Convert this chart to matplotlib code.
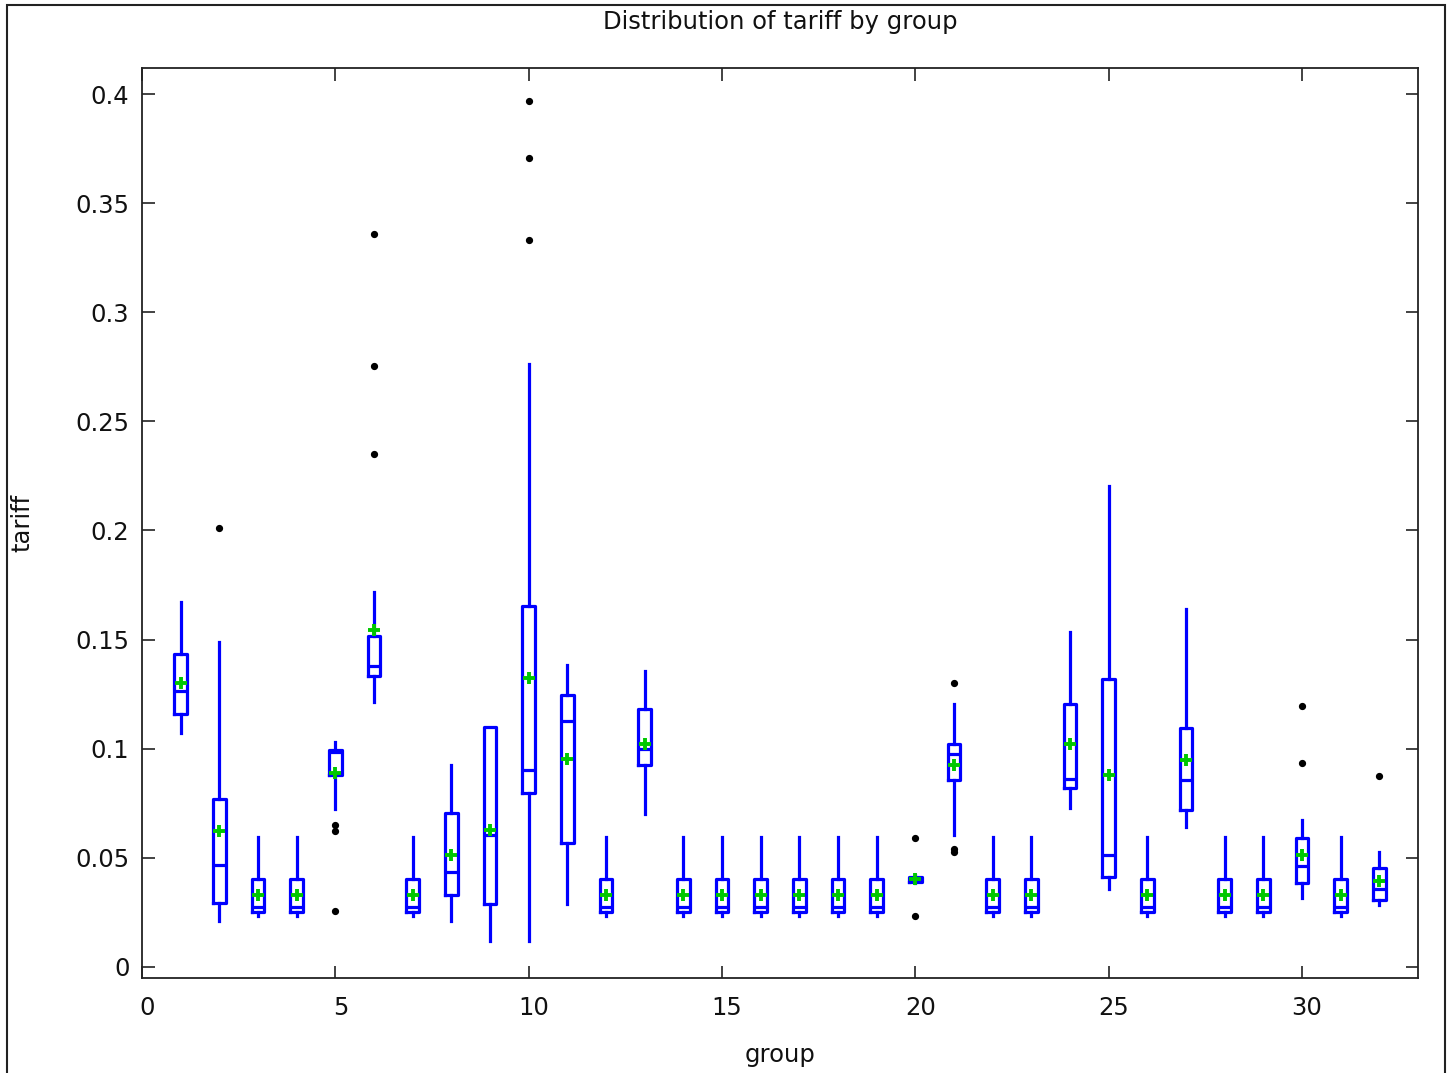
"""Figure: distribution of tariff by group (box plots, gretl style).

Each group shows box (Q1..Q3), median bar, whiskers without caps, the mean as a
green cross and the outliers as black dots.

Output: out.png
"""

from __future__ import annotations

import matplotlib

matplotlib.use("Agg")
import matplotlib.pyplot as plt
from matplotlib.patches import Rectangle
from matplotlib.transforms import ScaledTranslation


# Summary statistics.
GROUPS = list(range(1, 33))

# "standard" groups all share the same small box near 0.03
WHISLO = [
    0.107, 0.021, 0.0233, 0.0233, 0.0724, 0.1214, 0.0233, 0.021,
    0.0118, 0.0118, 0.0289, 0.0233, 0.070, 0.0233, 0.0233, 0.0233,
    0.0233, 0.0233, 0.0233, 0.0385, 0.0605, 0.0233, 0.0233, 0.0729,
    0.0358, 0.0233, 0.0641, 0.0233, 0.0233, 0.0316, 0.0233, 0.0284,
]
Q1 = [
    0.116, 0.029, 0.0252, 0.0252, 0.0877, 0.1334, 0.0252, 0.033,
    0.0289, 0.0797, 0.0568, 0.0252, 0.0926, 0.0252, 0.0252, 0.0252,
    0.0252, 0.0252, 0.0252, 0.0388, 0.0854, 0.0252, 0.0252, 0.082,
    0.0412, 0.0252, 0.0716, 0.0252, 0.0252, 0.0385, 0.0252, 0.0304,
]
MEDIAN = [
    0.1265, 0.0467, 0.0275, 0.0275, 0.0985, 0.138, 0.0275, 0.0435,
    0.0605, 0.0903, 0.1125, 0.0275, 0.0996, 0.0275, 0.0275, 0.0275,
    0.0275, 0.0275, 0.0275, 0.0400, 0.0976, 0.0275, 0.0275, 0.0859,
    0.0513, 0.0275, 0.0857, 0.0275, 0.0275, 0.046, 0.0275, 0.0354,
]
Q3 = [
    0.1434, 0.077, 0.0401, 0.0401, 0.0995, 0.1517, 0.0401, 0.0706,
    0.110, 0.1652, 0.1247, 0.0401, 0.118, 0.0401, 0.0401, 0.0401,
    0.0401, 0.0401, 0.0401, 0.0413, 0.1022, 0.0401, 0.0401, 0.1205,
    0.132, 0.0401, 0.1096, 0.0401, 0.0401, 0.059, 0.0401, 0.0452,
]
WHISHI = [
    0.167, 0.149, 0.0595, 0.0595, 0.103, 0.172, 0.0595, 0.0926,
    0.110, 0.2764, 0.1384, 0.0595, 0.1357, 0.0595, 0.0595, 0.0595,
    0.0595, 0.0595, 0.0595, 0.0420, 0.1205, 0.0595, 0.0595, 0.1535,
    0.2206, 0.0595, 0.1638, 0.0595, 0.0595, 0.0674, 0.0595, 0.0526,
]
MEAN = [
    0.130, 0.062, 0.033, 0.033, 0.089, 0.1545, 0.033, 0.0513,
    0.0628, 0.1324, 0.0953, 0.033, 0.102, 0.033, 0.033, 0.033,
    0.033, 0.033, 0.033, 0.0400, 0.0926, 0.033, 0.033, 0.1019,
    0.088, 0.033, 0.0949, 0.033, 0.033, 0.0513, 0.033, 0.0391,
]
OUTLIERS = {
    2: [0.201],
    5: [0.0257, 0.0622, 0.0648],
    6: [0.235, 0.2754, 0.336],
    10: [0.333, 0.371, 0.397],
    20: [0.0234, 0.059],
    21: [0.0528, 0.0540, 0.130],
    30: [0.0933, 0.1195],
    32: [0.0872],
}

X_TICKS = [0, 5, 10, 15, 20, 25, 30]
Y_TICKS = [0, 0.05, 0.1, 0.15, 0.2, 0.25, 0.3, 0.35, 0.4]

BLUE = "#0000ff"
GREEN = "#00c800"
INK = "#111111"
FS = 17.5


def main() -> None:
    plt.rcParams["font.family"] = "DejaVu Sans"
    plt.rcParams["font.size"] = FS

    fig = plt.figure(figsize=(14.55, 10.73), dpi=100)
    ax = fig.add_axes([142 / 1455, 95 / 1073, 1276 / 1455, 909.7 / 1073])

    stats = []
    for i, g in enumerate(GROUPS):
        stats.append(
            dict(
                whislo=WHISLO[i],
                q1=Q1[i],
                med=MEDIAN[i],
                q3=Q3[i],
                whishi=WHISHI[i],
                mean=MEAN[i],
                fliers=OUTLIERS.get(g, []),
            )
        )

    line = dict(color=BLUE, linewidth=2.3)
    ax.bxp(
        stats,
        positions=GROUPS,
        widths=0.32,
        showcaps=False,
        showmeans=True,
        boxprops=line,
        whiskerprops=line,
        medianprops=line,
        meanprops=dict(
            marker="+", markersize=9, markeredgewidth=2.8,
            markeredgecolor=GREEN, linestyle="none",
        ),
        flierprops=dict(
            marker="o", markersize=4.2, markerfacecolor="black",
            markeredgecolor="black", linestyle="none",
        ),
        manage_ticks=False,
    )

    ax.set_xlim(0, 33)
    ax.set_ylim(-0.0052, 0.4119)
    ax.set_xticks(X_TICKS)
    ax.set_xticklabels([str(v) for v in X_TICKS])
    ax.set_yticks(Y_TICKS)
    ax.set_yticklabels([f"{v:g}" for v in Y_TICKS])
    ax.tick_params(
        direction="in", length=9, width=1.2, top=True, right=True,
        color="#222222", labelcolor=INK, labelsize=FS,
    )
    ax.tick_params(axis="y", pad=9)
    ax.tick_params(axis="x", pad=13)
    # gretl/gnuplot draws the x tick labels a few pixels to the right
    shift = ScaledTranslation(5 / 100, 0, fig.dpi_scale_trans)
    for label in ax.get_xticklabels():
        label.set_transform(label.get_transform() + shift)
    for spine in ax.spines.values():
        spine.set_linewidth(1.3)
        spine.set_color("#222222")

    ax.set_title("Distribution of tariff by group", fontsize=FS, pad=0,
                 y=(978 - 22) / 909.7, va="center", color=INK)
    ax.set_xlabel("group", fontsize=FS, va="center", color=INK)
    ax.xaxis.set_label_coords(0.5, -(1055 - 978) / 909.7)
    ax.set_ylabel("tariff", fontsize=FS, va="center", color=INK)
    ax.yaxis.set_label_coords((22 - 142) / 1276, 0.5)

    # outer frame of the screenshot
    fig.add_artist(Rectangle(
        (7 / 1455, -0.05), (1445 - 7) / 1455, 1.05 - 5 / 1073,
        transform=fig.transFigure, fill=False, edgecolor="#222222",
        linewidth=1.5, clip_on=False,
    ))

    fig.savefig("out.png", dpi=100)
    plt.close(fig)


if __name__ == "__main__":
    main()
